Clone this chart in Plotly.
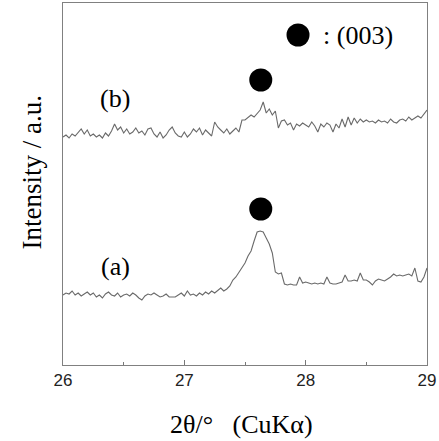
import plotly.graph_objects as go

# 2-theta scan positions (deg), step 0.025
two_theta = [round(26 + 0.025 * i, 3) for i in range(121)]

# Pattern (b) intensity (a.u.)
intensity_b = [
    228, 230, 227, 231, 229, 233, 236, 231, 235, 229, 231, 228, 230, 227, 232, 229, 234, 241, 235, 238,
    232, 236, 231, 233, 237, 232, 234, 230, 236, 237, 231, 228, 233, 227, 230, 235, 238, 232, 229, 228,
    233, 228, 231, 236, 233, 237, 230, 235, 232, 229, 243, 238, 235, 232, 236, 231, 234, 237, 233, 245,
    245, 248, 250, 248, 251, 255, 263, 252, 256, 250, 254, 237, 244, 245, 240, 242, 235, 241, 239, 242,
    240, 238, 243, 239, 233, 241, 238, 242, 240, 233, 241, 237, 246, 238, 248, 240, 247, 242, 246, 243,
    245, 243, 244, 242, 245, 243, 244, 242, 246, 243, 242, 245, 246, 244, 248, 245, 247, 249, 247, 251, 255,
]

# Pattern (a) intensity (a.u.)
intensity_a = [
    70, 72, 71, 74, 70, 72, 69, 71, 73, 70, 72, 68, 70, 67, 71, 73, 70, 69, 72, 68,
    70, 71, 69, 72, 70, 67, 65, 69, 71, 70, 72, 70, 68, 69, 71, 68, 68, 68, 70, 72,
    69, 74, 70, 71, 69, 72, 70, 73, 71, 74, 72, 75, 77, 74, 76, 79, 85, 88, 93, 98,
    102, 109, 114, 124, 133, 134, 133, 127, 121, 112, 93, 91, 92, 81, 80, 81, 80, 80, 88, 82,
    83, 82, 81, 82, 81, 82, 81, 88, 82, 81, 81, 82, 83, 90, 84, 84, 85, 84, 92, 85,
    85, 83, 80, 84, 86, 85, 84, 86, 88, 91, 89, 90, 89, 90, 91, 89, 97, 84, 83, 88, 97,
]

# (003) peak markers
peak_x = [27.63, 27.63]
peak_y = [285, 156]

# legend marker
legend_x = [27.937]
legend_y = [330]

x_ticks = [26, 27, 28, 29]
x_tick_labels = ["26", "27", "28", "29"]

SERIF = "Liberation Serif, Times New Roman, serif"
SANS = "Liberation Sans, Arial, sans-serif"
LINE = "#6a6a6a"

fig = go.Figure()
fig.add_trace(go.Scatter(x=two_theta, y=intensity_a, mode="lines",
                         line=dict(color=LINE, width=1.1), showlegend=False))
fig.add_trace(go.Scatter(x=two_theta, y=intensity_b, mode="lines",
                         line=dict(color=LINE, width=1.1), showlegend=False))
fig.add_trace(go.Scatter(x=peak_x, y=peak_y, mode="markers",
                         marker=dict(color="black", size=23, line=dict(width=0)),
                         showlegend=False))
fig.add_trace(go.Scatter(x=legend_x, y=legend_y, mode="markers",
                         marker=dict(color="black", size=23, line=dict(width=0)),
                         showlegend=False))

fig.add_annotation(x=28.125, y=330, text=":\u00a0(003)", showarrow=False,
                   xanchor="left", yanchor="middle",
                   font=dict(family=SERIF, size=26, color="black"))
fig.add_annotation(x=26.43, y=267, text="(b)", showarrow=False,
                   xanchor="center", yanchor="middle",
                   font=dict(family=SERIF, size=26, color="black"))
fig.add_annotation(x=26.43, y=99, text="(a)", showarrow=False,
                   xanchor="center", yanchor="middle",
                   font=dict(family=SERIF, size=26, color="black"))

# axis titles
fig.add_annotation(xref="paper", yref="paper", x=0.49, y=-0.165,
                   text="2\u03b8/\u00b0\u00a0\u00a0\u00a0(CuK\u03b1)", showarrow=False,
                   xanchor="center", yanchor="middle",
                   font=dict(family=SERIF, size=26, color="black"))
fig.add_annotation(xref="paper", yref="paper", x=-0.085, y=0.532,
                   text="Intensity / a.u.", showarrow=False, textangle=-90,
                   xanchor="center", yanchor="middle",
                   font=dict(family=SERIF, size=27, color="black"))

fig.update_layout(
    width=439, height=441,
    margin=dict(l=63, r=12, t=3, b=76),
    paper_bgcolor="white", plot_bgcolor="white",
    showlegend=False,
)
fig.update_xaxes(
    range=[26, 29], tickvals=x_ticks, ticktext=x_tick_labels,
    ticks="inside", ticklen=5, tickcolor="#777", tickwidth=1,
    minor=dict(ticks="inside", ticklen=3, dtick=0.5, tickcolor="#777", tickwidth=1),
    showline=True, linecolor="#808080", linewidth=1, mirror=True,
    showgrid=False, zeroline=False, automargin=False,
    tickfont=dict(family=SANS, size=17, color="#222"),
)
fig.update_yaxes(
    range=[0, 362], showticklabels=False, ticks="",
    showline=True, linecolor="#808080", linewidth=1, mirror=True,
    showgrid=False, zeroline=False, automargin=False,
)

fig.write_html("out.html", config={"displayModeBar": False},
               post_script="document.body.style.margin='0';")
